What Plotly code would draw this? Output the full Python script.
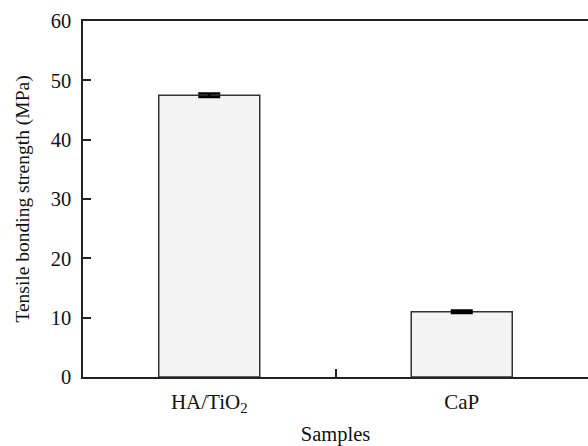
import plotly.graph_objects as go

categories = ["HA/TiO<sub>2</sub>", "CaP"]
strength = [47.5, 11.0]
errors = [0.3, 0.2]
y_ticks = [0, 10, 20, 30, 40, 50, 60]

font = "Liberation Serif"
xpos = list(range(len(categories)))

fig = go.Figure()
fig.add_trace(go.Bar(
    x=xpos, y=strength, width=0.4,
    marker=dict(color="#f4f4f4", line=dict(color="#333333", width=1.5)),
    error_y=dict(type="data", array=errors, visible=True, color="black",
                 thickness=2.5, width=11),
    showlegend=False,
))
# invisible trace to activate the secondary x axis carrying the mid tick
fig.add_trace(go.Scatter(x=[0.5], y=[0], xaxis="x2", mode="markers",
                         marker=dict(opacity=0), showlegend=False,
                         hoverinfo="skip"))

fig.update_layout(
    width=588, height=446,
    margin=dict(l=83, r=0, t=21, b=69, autoexpand=False),
    plot_bgcolor="white", paper_bgcolor="white",
    font=dict(family=font, size=20, color="#111111"),
    xaxis=dict(
        range=[-0.5, 1.5], tickvals=xpos, ticktext=categories,
        ticks="", showline=True, linecolor="#222222", linewidth=1.5,
        mirror=True, showgrid=False, zeroline=False,
        tickfont=dict(size=21), ticklabelstandoff=5,
        title=dict(text="Samples", font=dict(size=20.5), standoff=12),
    ),
    xaxis2=dict(
        range=[-0.5, 1.5], overlaying="x", side="bottom",
        tickvals=[0.5], showticklabels=False, ticks="inside",
        ticklen=8, tickwidth=1.5, tickcolor="#222222",
        showgrid=False, zeroline=False, showline=False,
    ),
    yaxis=dict(
        range=[0, 60], tickvals=y_ticks, ticks="inside", ticklen=8,
        tickwidth=1.5, tickcolor="#222222",
        showline=True, linecolor="#222222", linewidth=1.5,
        showgrid=False, zeroline=False, tickfont=dict(size=20.5),
        ticklabelstandoff=6,
        title=dict(text="Tensile bonding strength (MPa)", font=dict(size=19.5),
                   standoff=16),
    ),
)

fig.write_html("out.html", config={"displayModeBar": False},
               post_script="document.body.style.margin='0';")
